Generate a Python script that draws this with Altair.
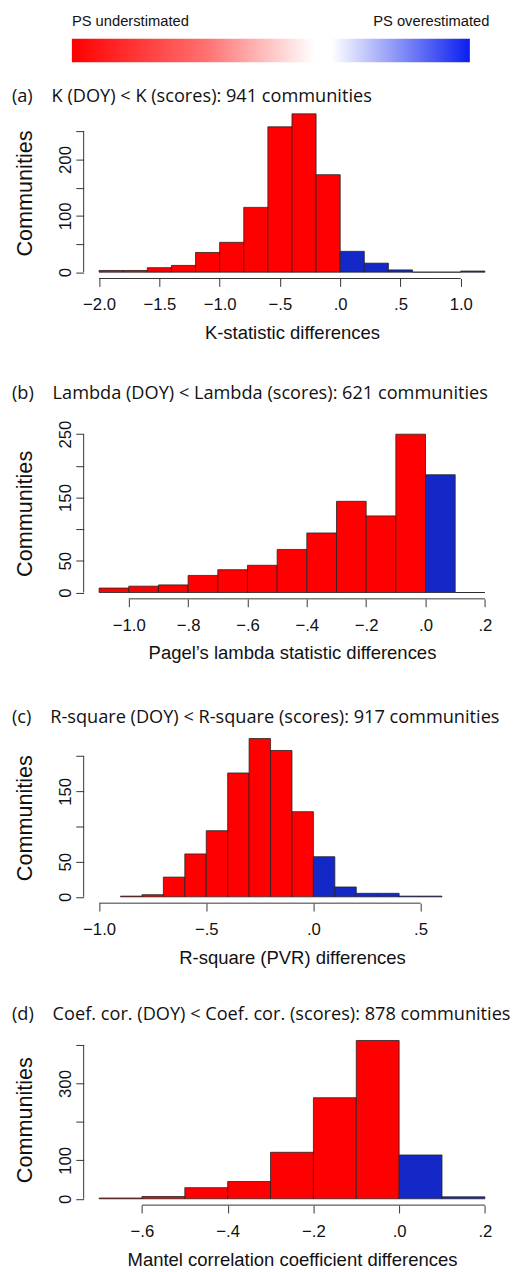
import altair as alt
import pandas as pd

RED = "#FF0000"
BLUE = "#1428C8"
AXC = "#333333"
TXT = "#111111"
TICKFONT = "Liberation Sans"
TITLEFONT = "Open Sans"

# ---------------- data ----------------
# (a) K-statistic differences, bins of 0.2
A_START = [-2.0, -1.8, -1.6, -1.4, -1.2, -1.0, -0.8, -0.6, -0.4, -0.2, 0.0, 0.2, 0.4, 0.6, 0.8, 1.0]
A_COUNT = [3, 3, 8, 12, 35, 53, 115, 258, 281, 173, 37, 16, 4, 0, 0, 2]
A_WIDTH = 0.2
A_XTICKS = [-2.0, -1.5, -1.0, -0.5, 0.0, 0.5, 1.0]
A_YTICKS = [0, 50, 100, 150, 200, 250]
A_YLABELS = [0, 100, 200]

# (b) Pagel's lambda differences, bins of 0.1
B_START = [-1.1, -1.0, -0.9, -0.8, -0.7, -0.6, -0.5, -0.4, -0.3, -0.2, -0.1, 0.0, 0.1]
B_COUNT = [7, 10, 12, 27, 36, 43, 68, 94, 144, 121, 250, 186, 0]
B_WIDTH = 0.1
B_XTICKS = [-1.0, -0.8, -0.6, -0.4, -0.2, 0.0, 0.2]
B_YTICKS = [0, 50, 100, 150, 200, 250]
B_YLABELS = [0, 50, 150, 250]

# (c) R-square (PVR) differences, bins of 0.1
C_START = [-0.9, -0.8, -0.7, -0.6, -0.5, -0.4, -0.3, -0.2, -0.1, 0.0, 0.1, 0.2, 0.3, 0.4, 0.5]
C_COUNT = [1, 3, 28, 61, 94, 176, 225, 208, 121, 57, 14, 5, 5, 1, 1]
C_WIDTH = 0.1
C_XTICKS = [-1.0, -0.5, 0.0, 0.5]
C_YTICKS = [0, 50, 100, 150, 200]
C_YLABELS = [0, 50, 150]

# (d) Mantel correlation coefficient differences, bins of 0.1
D_START = [-0.7, -0.6, -0.5, -0.4, -0.3, -0.2, -0.1, 0.0, 0.1]
D_COUNT = [2, 6, 29, 45, 121, 263, 412, 114, 5]
D_WIDTH = 0.1
D_XTICKS = [-0.6, -0.4, -0.2, 0.0, 0.2]
D_YTICKS = [0, 100, 200, 300, 400]
D_YLABELS = [0, 100, 300]

TITLES = [
    "(a)\u00a0\u00a0\u00a0\u00a0K (DOY) < K (scores): 941 communities",
    "(b)\u00a0\u00a0\u00a0\u00a0Lambda (DOY) < Lambda (scores): 621 communities",
    "(c)\u00a0\u00a0\u00a0\u00a0R-square (DOY) < R-square (scores): 917 communities",
    "(d)\u00a0\u00a0\u00a0\u00a0Coef. cor. (DOY) < Coef. cor. (scores): 878 communities",
]
XTITLES = [
    "K-statistic differences",
    "Pagel\u2019s lambda statistic differences",
    "R-square (PVR) differences",
    "Mantel correlation coefficient differences",
]
# x ranges (R xlim) per panel
XLIMS = [(-2.0, 1.2), (-1.1, 0.2), (-1.0, 0.8), (-0.7, 0.2)]

KEY_LABELS = ["PS understimated", "PS overestimated"]

W = 424
H = 174

XLABEL_EXPR = (
    "abs(datum.value) < 1 ? (datum.value < 0 ? '\u2212' : '') + "
    "replace(format(abs(datum.value), '.1f'), '0.', '.') : format(datum.value, '.1f')"
)


def panel(starts, counts, width, xlim, xticks, yticks, ylabels, title, xtitle, toffset):
    df = pd.DataFrame({"start": starts, "count": counts})
    df["end"] = df["start"] + width
    df["base"] = 0
    df["side"] = ["over" if s > -1e-9 else "under" for s in starts]
    m = max(counts)
    span = xlim[1] - xlim[0]
    xdom = [xlim[0] - 0.04 * span, xlim[1] + 0.04 * span]
    ydom = [-0.04 * m, 1.04 * m]
    xs = alt.Scale(domain=xdom, nice=False, zero=False)
    ys = alt.Scale(domain=ydom, nice=False, zero=False)

    xaxis = alt.Axis(
        values=xticks, labelExpr=XLABEL_EXPR, domain=False, grid=False,
        tickSize=8, tickColor=AXC, tickWidth=1,
        labelFont=TICKFONT, labelFontSize=17, labelColor=TXT, labelPadding=11,
        labelFlush=False, labelOverlap=False,
        title=xtitle, titleFont=TICKFONT, titleFontSize=18.8, titleFontWeight="normal",
        titleColor=TXT, titlePadding=11,
    )
    label_list = ",".join(str(v) for v in ylabels)
    yaxis = alt.Axis(
        values=yticks, labelExpr=f"indexof([{label_list}], datum.value) >= 0 ? datum.label : ''",
        domain=False, grid=False, tickSize=8, tickColor=AXC, tickWidth=1,
        labelAngle=270, labelAlign="center", labelBaseline="alphabetic",
        labelFont=TICKFONT, labelFontSize=17, labelColor=TXT, labelPadding=5,
        labelOverlap=False, labelFlush=False,
        title="Communities", titleFont=TICKFONT, titleFontSize=22, titleFontWeight="normal",
        titleColor=TXT, titlePadding=21,
    )
    X = lambda f: alt.X(f, scale=xs, axis=xaxis)
    Y = lambda f: alt.Y(f, scale=ys, axis=yaxis)

    bars = alt.Chart(df).mark_rect(stroke="#222222", strokeWidth=0.8).encode(
        x=X("start:Q"),
        x2="end:Q",
        y=Y("count:Q"),
        y2="base:Q",
        color=alt.Color("side:N", scale=alt.Scale(domain=["under", "over"], range=[RED, BLUE]), legend=None),
    )
    xline_df = pd.DataFrame({"start": [xticks[0]], "end": [xticks[-1]], "count": [ydom[0]]})
    xline = alt.Chart(xline_df).mark_rule(color=AXC, strokeWidth=1).encode(
        x=X("start:Q"), x2="end:Q", y=Y("count:Q")
    )
    yline_df = pd.DataFrame({"start": [xdom[0]], "count": [yticks[0]], "base": [yticks[-1]]})
    yline = alt.Chart(yline_df).mark_rule(color=AXC, strokeWidth=1).encode(
        x=X("start:Q"), y=Y("count:Q"), y2="base:Q"
    )
    return alt.layer(bars, xline, yline).properties(
        width=W, height=H,
        title=alt.TitleParams(
            title, anchor="start", frame="group", dx=-73, offset=toffset,
            font=TITLEFONT, fontSize=18.5, fontWeight="normal", color=TXT, baseline="alphabetic",
        ),
    )


pa = panel(A_START, A_COUNT, A_WIDTH, XLIMS[0], A_XTICKS, A_YTICKS, A_YLABELS, TITLES[0], XTITLES[0], -13.3)
pb = panel(B_START, B_COUNT, B_WIDTH, XLIMS[1], B_XTICKS, B_YTICKS, B_YLABELS, TITLES[1], XTITLES[1], 3.5)
pc = panel(C_START, C_COUNT, C_WIDTH, XLIMS[2], C_XTICKS, C_YTICKS, C_YLABELS, TITLES[2], XTITLES[2], -9)
pd_ = panel(D_START, D_COUNT, D_WIDTH, XLIMS[3], D_XTICKS, D_YTICKS, D_YLABELS, TITLES[3], XTITLES[3], -4.5)

# ---------------- colour key ----------------
KEY_RED = [0.0, 0.61]
KEY_BLUE = [0.652, 1.0]
KEY_TEXT_POS = [0.0, 1.049]
kx = alt.Scale(domain=[0.0296, 1.0765], nice=False, zero=False)
ky = alt.Scale(domain=[0, 2], nice=False, zero=False)

red_df = pd.DataFrame({"a": [KEY_RED[0]], "b": [KEY_RED[1]], "y0": [0], "y1": [1]})
blue_df = pd.DataFrame({"a": [KEY_BLUE[0]], "b": [KEY_BLUE[1]], "y0": [0], "y1": [1]})
red_rect = alt.Chart(red_df).mark_rect(
    fill=alt.Gradient(gradient="linear", x1=0, x2=1, y1=0, y2=0,
                      stops=[alt.GradientStop(color="#FF0000", offset=0),
                             alt.GradientStop(color="#FF7070", offset=0.55),
                             alt.GradientStop(color="#FFFFFF", offset=1)])
).encode(x=alt.X("a:Q", scale=kx, axis=None), x2="b:Q",
         y=alt.Y("y0:Q", scale=ky, axis=None), y2="y1:Q")
blue_rect = alt.Chart(blue_df).mark_rect(
    fill=alt.Gradient(gradient="linear", x1=0, x2=1, y1=0, y2=0,
                      stops=[alt.GradientStop(color="#FFFFFF", offset=0),
                             alt.GradientStop(color="#0A1EF0", offset=1)])
).encode(x=alt.X("a:Q", scale=kx, axis=None), x2="b:Q",
         y=alt.Y("y0:Q", scale=ky, axis=None), y2="y1:Q")
t_df = pd.DataFrame({"x": KEY_TEXT_POS, "y": [2.035, 2.035], "t": KEY_LABELS})
t_left = alt.Chart(t_df.iloc[[0]]).mark_text(align="left", baseline="top", font=TICKFONT,
                                             fontSize=15, color=TXT).encode(
    x=alt.X("x:Q", scale=kx, axis=None), y=alt.Y("y:Q", scale=ky, axis=None), text="t:N")
t_right = alt.Chart(t_df.iloc[[1]]).mark_text(align="right", baseline="top", font=TICKFONT,
                                              fontSize=15, color=TXT).encode(
    x=alt.X("x:Q", scale=kx, axis=None), y=alt.Y("y:Q", scale=ky, axis=None), text="t:N")
key = alt.layer(red_rect, blue_rect, t_left, t_right).properties(width=W, height=48)

top_pair = alt.vconcat(pa, pb, spacing=42)
bottom_pair = alt.vconcat(pc, pd_, spacing=39.3)
panels = alt.vconcat(top_pair, bottom_pair, spacing=45.7)
chart = alt.vconcat(key, panels, spacing=25).properties(
    padding={"left": 4, "top": -5, "right": 5, "bottom": 5},
    background="white",
).configure_view(stroke=None)

chart.save("out.html", embed_options={"renderer": "svg", "actions": False})
